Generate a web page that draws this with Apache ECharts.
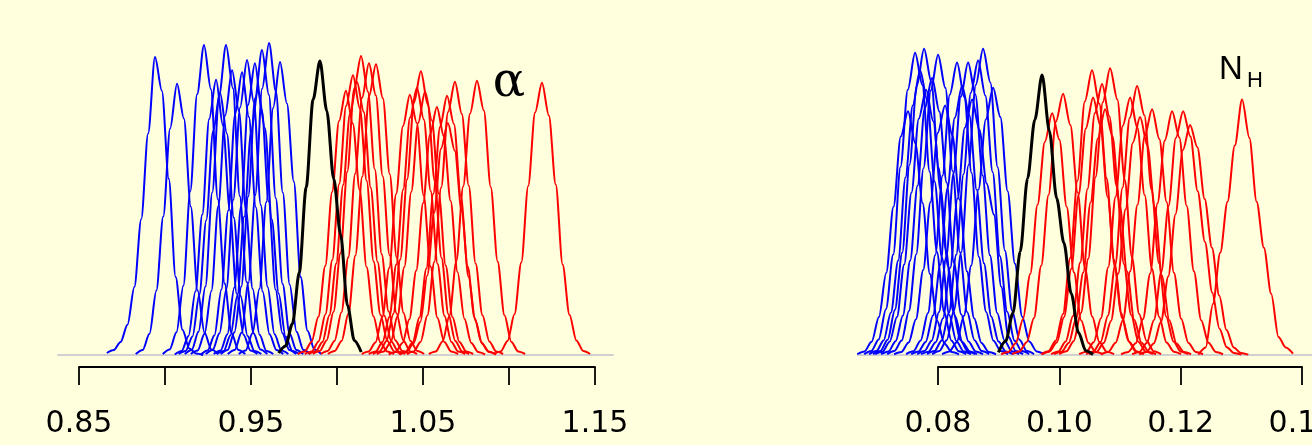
<!DOCTYPE html>
<html>
<head>
<meta charset="utf-8">
<script src="https://cdn.jsdelivr.net/npm/echarts@6/dist/echarts.min.js"></script>
<style>
  html, body { margin: 0; padding: 0; background: #FFFFDD; }
  #chart { width: 1312px; height: 445px; }
</style>
</head>
<body>
<div id="chart"></div>
<script>
// Posterior densities of alpha (left) and N_H (right).
// Each curve: [first x value, densities sampled every <step> along x].

const alphaStep = 0.004;
const alphaTickLabels = ['0.85', '0.95', '1.05', '1.15'];
const alphaBlue = [
  [0.8662, [0.4, 1.0, 2.6, 6.0, 13.5, 27.0, 44.0, 59.2, 52.5, 35.0, 15.5, 5.0, 1.3, 0.3, 0]],
  [0.8830, [0.2, 1.0, 4.2, 12.8, 27.5, 45.0, 53.9, 47.0, 29.5, 12.8, 4.4, 1.1, 0.2]],
  [0.8987, [0.2, 1.1, 4.5, 13.8, 32.5, 51.8, 61.6, 52.8, 31.0, 14.2, 4.3, 1.0, 0.2]],
  [0.9057, [0.1, 0.8, 3.8, 12.6, 27.9, 46.9, 54.7, 45.6, 28.8, 12.2, 4.0, 0.9, 0.2]],
  [0.9115, [0.2, 1.0, 4.6, 13.6, 32.3, 51.6, 61.6, 53.0, 31.6, 14.5, 4.3, 1.1, 0.2]],
  [0.9150, [0.2, 0.9, 4.2, 12.7, 29.6, 47.6, 56.6, 48.5, 29.0, 13.1, 4.0, 0.8, 0.2]],
  [0.9208, [0.1, 0.9, 3.9, 13.0, 28.7, 47.9, 56.2, 47.3, 29.4, 12.6, 4.1, 1.0, 0.2]],
  [0.9237, [0.2, 1.0, 4.3, 13.1, 30.8, 49.2, 58.6, 50.2, 29.8, 13.5, 4.1, 0.9, 0.2]],
  [0.9283, [0.2, 0.9, 4.1, 13.4, 29.6, 49.7, 58.0, 48.7, 30.5, 13.0, 4.3, 1.0, 0.2]],
  [0.9324, [0.2, 1.0, 4.5, 13.6, 31.5, 51.0, 60.6, 51.7, 31.2, 14.1, 4.3, 1.0, 0.2]],
  [0.9365, [0.2, 1.0, 4.4, 14.3, 31.8, 52.9, 62.0, 52.4, 32.3, 14.0, 4.6, 1.0, 0.2]],
  [0.9429, [0.2, 0.9, 4.3, 13.1, 30.4, 49.1, 58.2, 50.0, 34.5, 15.5, 4.8, 1.1, 0.2]],
  [0.9080, [0.2, 0.8, 3.7, 12.0, 26.8, 44.5, 52.1, 44.0, 27.3, 11.7, 3.8, 0.8, 0.2]],
  [0.9301, [0.2, 0.8, 3.9, 11.8, 27.5, 44.4, 52.7, 45.1, 27.0, 12.2, 3.7, 0.8, 0.2]]
];
const alphaBlack = [0.9661, [0.4, 1.8, 6.2, 16.4, 33.3, 50.7, 58.4, 48.5, 35.0, 24.0, 9.9, 2.9, 0.6]];
const alphaRed = [
  [0.9772, [0.2, 0.7, 2.6, 7.6, 17.7, 32.4, 46.5, 52.5, 46.0, 32.8, 17.5, 7.7, 2.5, 0.7, 0.2]],
  [0.9813, [0.2, 0.7, 2.7, 8.1, 18.9, 34.0, 49.5, 55.6, 49.0, 34.6, 18.6, 8.0, 2.8, 0.7, 0.2]],
  [0.9836, [0.2, 0.7, 2.6, 7.9, 18.2, 33.8, 48.0, 54.3, 48.3, 33.3, 18.5, 7.8, 2.7, 0.7, 0.2]],
  [0.9860, [0.2, 0.8, 2.9, 8.6, 20.2, 36.4, 52.9, 59.4, 52.3, 36.9, 20.0, 8.7, 2.9, 0.8, 0.2]],
  [0.9906, [0.2, 0.8, 2.8, 8.5, 19.4, 36.0, 51.1, 58.0, 51.6, 35.5, 19.8, 8.3, 2.9, 0.7, 0.2]],
  [0.9947, [0.2, 0.8, 2.8, 8.3, 19.7, 35.4, 51.5, 57.8, 51.0, 35.9, 19.4, 8.4, 2.8, 0.8, 0.2]],
  [1.0144, [0.2, 0.7, 2.5, 7.6, 17.3, 32.0, 45.5, 51.7, 46.1, 31.7, 17.6, 7.4, 2.6, 0.7, 0.2]],
  [1.0185, [0.2, 0.7, 2.6, 7.6, 18.0, 32.9, 47.2, 53.1, 46.8, 32.6, 18.1, 7.8, 2.6, 0.7, 0.2]],
  [1.0208, [0.2, 0.7, 2.8, 8.2, 19.0, 34.9, 50.2, 56.4, 49.8, 34.6, 19.3, 8.1, 2.8, 0.7, 0.2]],
  [1.0232, [0.2, 0.7, 2.5, 7.7, 17.5, 32.4, 46.1, 52.3, 46.6, 32.1, 17.8, 7.5, 2.6, 0.7, 0.2]],
  [1.0301, [0.1, 0.6, 2.4, 7.1, 16.8, 30.2, 43.8, 49.3, 43.5, 30.6, 16.5, 7.2, 2.4, 0.6, 0.1]],
  [1.0360, [0.2, 0.7, 2.5, 7.5, 17.2, 32.0, 45.4, 51.5, 45.9, 31.6, 17.6, 7.4, 2.5, 0.7, 0.2]],
  [1.0365, [0.1, 0.6, 2.3, 6.6, 15.8, 28.2, 41.0, 46.1, 40.6, 28.6, 15.5, 6.8, 2.2, 0.6, 0.1]],
  [1.0406, [0.2, 0.7, 2.6, 7.9, 18.5, 33.3, 48.3, 54.3, 47.9, 33.7, 18.2, 7.9, 2.7, 0.7, 0.2]],
  [1.0534, [0.2, 0.7, 2.7, 7.8, 18.6, 33.5, 48.0, 54.5, 48.6, 33.4, 18.6, 7.9, 2.6, 0.7, 0.2]],
  [1.0912, [0.2, 0.7, 2.8, 8.1, 18.4, 33.6, 48.2, 54.1, 47.6, 33.9, 18.0, 8.0, 2.9, 0.8, 0.2]]
];

const nhStep = 0.0012;
const nhTickLabels = ['0.08', '0.10', '0.12', '0.14'];
const nhBlue = [
  [0.06665, [0.4, 1.8, 6.8, 19.5, 42.0, 76.0, 112.0, 125, 108.5, 78.0, 41.5, 17.6, 5.9, 1.5, 0.3]],
  [0.06781, [0.5, 2.1, 8.0, 23.5, 51.5, 96.5, 136.0, 155, 138.5, 94.0, 53.0, 22.0, 7.3, 1.9, 0.4]],
  [0.06863, [0.4, 2.0, 7.5, 21.8, 48.5, 91.0, 128.0, 146, 130.5, 89.0, 50.0, 20.6, 7.0, 1.8, 0.4]],
  [0.06929, [0.5, 2.0, 7.8, 23.2, 52.5, 97.5, 138.0, 157, 140.0, 96.0, 53.8, 22.4, 7.6, 1.9, 0.5]],
  [0.07061, [0.4, 1.8, 7.1, 20.3, 48.5, 86.8, 126.5, 142, 124.9, 88.4, 47.5, 20.9, 6.9, 1.8, 0.4]],
  [0.07160, [0.5, 2.1, 7.4, 22.6, 51.6, 95.8, 135.7, 154, 137.0, 94.3, 52.7, 22.0, 7.6, 2.0, 0.5]],
  [0.07473, [0.5, 1.9, 7.5, 21.5, 51.2, 91.9, 133.5, 150, 132.2, 93.3, 50.2, 22.1, 7.3, 2.0, 0.4]],
  [0.07655, [0.4, 2.0, 7.3, 22.0, 50.3, 93.1, 132.4, 150, 133.6, 92.0, 51.1, 21.6, 7.5, 1.9, 0.5]],
  [0.07820, [0.5, 2.0, 7.5, 21.7, 51.4, 92.7, 134.5, 151, 133.0, 93.8, 50.6, 22.2, 7.3, 2.0, 0.5]],
  [0.07902, [0.5, 2.1, 7.6, 23.0, 52.7, 97.4, 138.5, 157, 139.8, 96.3, 53.6, 22.6, 7.8, 2.0, 0.5]],
  [0.08067, [0.4, 1.8, 6.6, 20.1, 45.9, 85.0, 120.8, 137, 122.0, 84.0, 46.8, 19.6, 6.8, 1.8, 0.4]],
  [0.06962, [0.4, 1.7, 6.8, 19.5, 46.4, 83.3, 121.2, 136, 119.8, 84.6, 45.6, 19.9, 6.6, 1.8, 0.4]],
  [0.07556, [0.4, 1.8, 6.7, 20.2, 46.2, 85.6, 121.7, 138, 123.0, 84.7, 47.0, 19.8, 6.9, 1.8, 0.4]],
  [0.07721, [0.4, 1.7, 6.5, 18.8, 44.7, 80.3, 116.6, 131, 115.5, 88.0, 72.0, 35.0, 9.5, 2.0, 0.4]],
  [0.07275, [0.4, 1.6, 6.4, 18.3, 43.6, 78.5, 113.9, 128, 112.8, 79.6, 42.9, 18.9, 6.2, 1.6, 0.4]]
];
const nhBlack = [0.08995, [1.4, 7.2, 21.5, 53.1, 90.5, 120.6, 143.6, 114.9, 80.4, 57.4, 31.6, 11.5, 2.2, 0.3]];
const nhRed = [
  [0.09040, [0.4, 1.6, 6.0, 18.3, 41.5, 77.0, 109.2, 124, 110.5, 76.0, 42.4, 17.7, 6.2, 1.6, 0.4]],
  [0.09221, [0.4, 1.8, 6.6, 19.0, 45.8, 82.0, 119.5, 134, 117.9, 83.4, 44.8, 19.8, 6.5, 1.7, 0.4]],
  [0.09699, [0.4, 1.9, 7.3, 21.0, 49.8, 89.5, 130.0, 146, 128.8, 90.6, 48.9, 21.5, 7.1, 1.9, 0.4]],
  [0.09716, [0.4, 1.7, 6.4, 19.4, 44.1, 82.0, 116.2, 132, 117.8, 80.9, 45.0, 18.8, 6.6, 1.7, 0.4]],
  [0.09864, [0.4, 1.8, 6.9, 20.0, 47.4, 85.1, 124.0, 139, 122.5, 86.5, 46.6, 20.5, 6.7, 1.8, 0.4]],
  [0.09996, [0.4, 1.9, 7.1, 21.6, 49.3, 91.2, 129.6, 147, 131.0, 90.0, 50.1, 21.0, 7.3, 1.9, 0.4]],
  [0.10326, [0.4, 1.7, 6.6, 18.9, 45.0, 81.0, 117.6, 132, 116.5, 82.0, 44.2, 19.5, 6.4, 1.7, 0.4]],
  [0.10441, [0.4, 1.8, 6.7, 20.3, 46.2, 85.8, 121.7, 138, 123.0, 84.6, 47.1, 19.8, 6.9, 1.8, 0.4]],
  [0.10688, [0.4, 1.6, 6.3, 18.0, 43.0, 77.0, 112.4, 126, 110.8, 78.4, 42.2, 18.6, 6.1, 1.6, 0.4]],
  [0.11018, [0.4, 1.6, 6.0, 18.4, 41.8, 77.8, 110.0, 125, 111.6, 76.5, 42.9, 17.8, 6.3, 1.6, 0.4]],
  [0.11200, [0.4, 1.6, 6.1, 18.0, 42.5, 76.6, 111.3, 125, 112.0, 84.0, 58.0, 32.0, 13.5, 4.0, 1.0, 0.2]],
  [0.11315, [0.3, 1.5, 5.9, 17.0, 40.3, 72.2, 105.0, 118, 106.5, 80.0, 55.0, 30.5, 12.8, 3.8, 1.0, 0.2]],
  [0.12292, [0.2, 3.9, 26.2, 52.4, 78.6, 107.4, 131, 111.4, 78.6, 55.0, 31.4, 9.2, 3.9, 0.7]],
  [0.09914, [0.4, 1.7, 6.1, 18.5, 42.3, 78.2, 111.0, 126, 112.3, 77.1, 43.0, 18.1, 6.3, 1.6, 0.4]],
  [0.10491, [0.4, 1.5, 6.1, 17.5, 41.8, 74.7, 108.9, 122, 107.4, 75.9, 40.8, 18.0, 5.9, 1.6, 0.4]]
];

// Plot extents (x) and density ceilings (y) of the two panels
const alphaRange = [0.8378, 1.1605];
const nhRange = [0.0668, 0.1583];
const alphaDensityMax = 62;
const nhDensityMax = 160;

const TICK_FONT = '"DejaVu Sans", "Liberation Sans", Arial, sans-serif';

function toPoints(curve, step) {
  const x0 = curve[0];
  return curve[1].map((y, i) => [Math.round((x0 + i * step) * 1e6) / 1e6, y]);
}

function lineSeries(curve, step, axisIdx, color, width, z) {
  return {
    type: 'line',
    xAxisIndex: axisIdx,
    yAxisIndex: axisIdx,
    data: toPoints(curve, step),
    showSymbol: false,
    symbol: 'none',
    smooth: 0.3,
    smoothMonotone: 'x',
    silent: true,
    z: z,
    lineStyle: { color: color, width: width, join: 'round' }
  };
}

const series = [];
alphaBlue.forEach(c => series.push(lineSeries(c, alphaStep, 0, '#0000FF', 2, 2)));
alphaRed.forEach(c => series.push(lineSeries(c, alphaStep, 0, '#FF0000', 2, 3)));
series.push(lineSeries(alphaBlack, alphaStep, 0, '#000000', 3, 4));
nhBlue.forEach(c => series.push(lineSeries(c, nhStep, 2, '#0000FF', 2, 2)));
nhRed.forEach(c => series.push(lineSeries(c, nhStep, 2, '#FF0000', 2, 3)));
series.push(lineSeries(nhBlack, nhStep, 2, '#000000', 3, 4));

function baselineAxis(grid, range) {
  return {
    type: 'value', gridIndex: grid, min: range[0], max: range[1],
    axisLine: { show: true, onZero: false, lineStyle: { color: '#d0d0d0', width: 2 } },
    axisTick: { show: false }, axisLabel: { show: false }, splitLine: { show: false },
    z: 0
  };
}

function tickAxis(grid, min, max, interval, labels) {
  return {
    type: 'value', gridIndex: grid, min: min, max: max, interval: interval,
    axisLine: { show: true, lineStyle: { color: '#000', width: 1.8 } },
    axisTick: { show: true, inside: false, length: 18, lineStyle: { color: '#000', width: 1.8 } },
    axisLabel: {
      show: true, margin: 42, color: '#000', fontSize: 30, fontFamily: TICK_FONT,
      showMinLabel: true, showMaxLabel: true, hideOverlap: false,
      formatter: v => {
        const s = v.toFixed(2);
        return labels.indexOf(s) >= 0 ? s : '';
      }
    },
    splitLine: { show: false }
  };
}

function hiddenY(grid, max) {
  return { type: 'value', gridIndex: grid, min: 0, max: max, show: false, splitLine: { show: false } };
}

function panelGrid(left, top, width, height) {
  return { left: left, top: top, width: width, height: height, containLabel: false, outerBoundsMode: 'none' };
}

const chart = echarts.init(document.getElementById('chart'), null, { renderer: 'canvas' });
chart.setOption({
  backgroundColor: '#FFFFDD',
  animation: false,
  grid: [
    panelGrid(58, 43, 555, 312),
    panelGrid(79, 300, 516, 67),
    panelGrid(858, 43, 555, 312),
    panelGrid(938, 300, 364, 67)
  ],
  xAxis: [
    baselineAxis(0, alphaRange),
    tickAxis(1, 0.85, 1.15, 0.05, alphaTickLabels),
    baselineAxis(2, nhRange),
    tickAxis(3, 0.08, 0.14, 0.02, nhTickLabels)
  ],
  yAxis: [
    hiddenY(0, alphaDensityMax),
    hiddenY(1, 1),
    hiddenY(2, nhDensityMax),
    hiddenY(3, 1)
  ],
  graphic: [
    {
      type: 'text', x: 509, y: 84, z: 10,
      style: { text: 'α', font: '48px "DejaVu Serif", "Liberation Serif", serif', fill: '#000',
               textAlign: 'center', textVerticalAlign: 'middle' }
    },
    {
      type: 'text', x: 1231, y: 70, z: 10,
      style: { text: 'N', font: '33px "Liberation Sans", Arial, sans-serif', fill: '#000',
               textAlign: 'center', textVerticalAlign: 'middle' }
    },
    {
      type: 'text', x: 1255, y: 81, z: 10,
      style: { text: 'H', font: '22px "Liberation Sans", Arial, sans-serif', fill: '#000',
               textAlign: 'center', textVerticalAlign: 'middle' }
    }
  ],
  series: series
});
</script>
</body>
</html>
